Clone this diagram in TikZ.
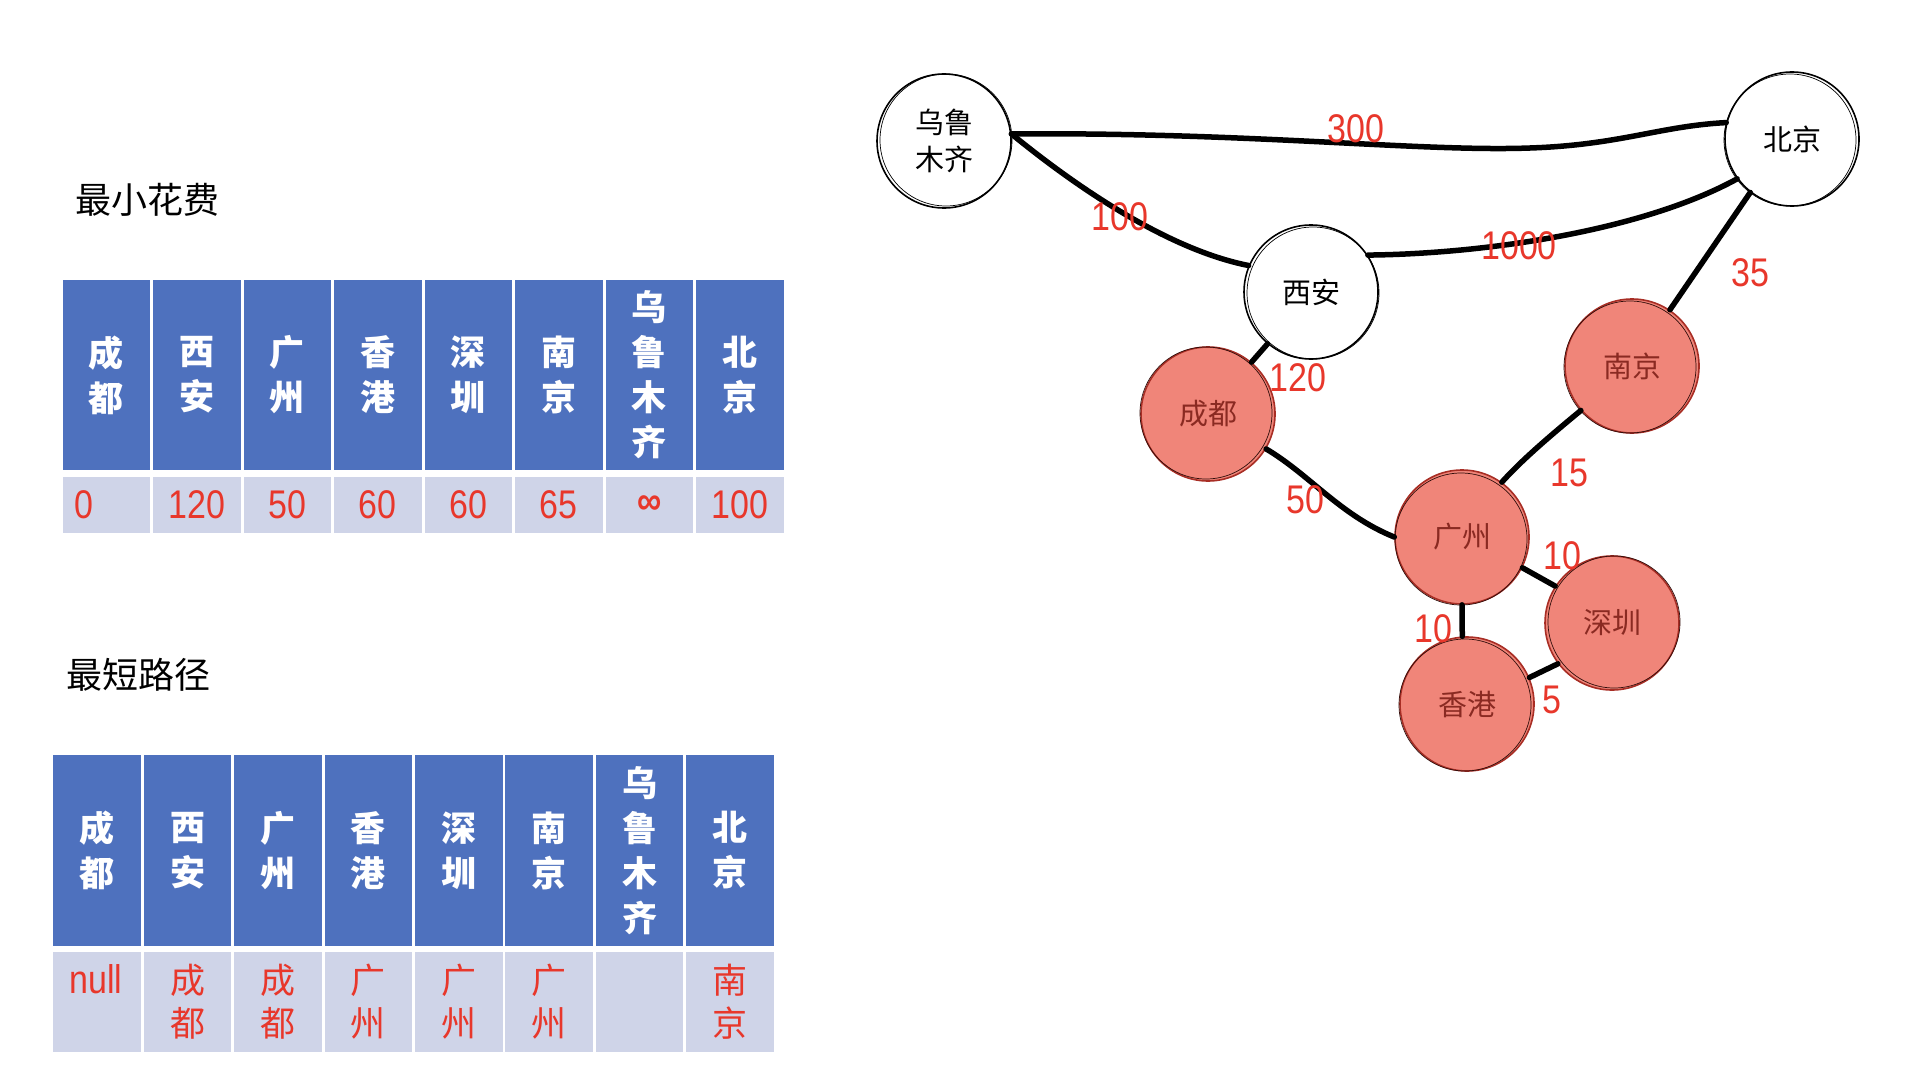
\documentclass[tikz,border=0pt]{standalone}
\usepackage{fontspec}
\setmainfont{Liberation Sans}
\newfontfamily\cjk{Noto Sans CJK SC}
\newfontfamily\numf[FakeStretch=0.85]{Liberation Sans}
\definecolor{hblue}{HTML}{4E71BE}
\definecolor{dgray}{HTML}{CFD4E8}
\definecolor{lred}{HTML}{E8372B}
\definecolor{nfill}{HTML}{F08579}
\definecolor{nline}{HTML}{A82E25}
\definecolor{ntext}{HTML}{8A2A22}
\tikzset{
  hcell/.style={fill=hblue, text=white, minimum width=87.5pt, inner sep=0pt, align=center,
    font=\cjk\bfseries\fontsize{35}{45}\selectfont},
  dcell/.style={fill=dgray, minimum width=87.5pt, inner sep=0pt, align=center},
  numtxt/.style={text=lred, font=\numf\fontsize{40}{40}\selectfont, inner sep=0pt},
  cjkred/.style={text=lred, font=\cjk\fontsize{35}{43}\selectfont},
  titletxt/.style={font=\cjk\fontsize{36}{40}\selectfont, inner sep=0pt},
  wnode/.style={circle, draw=black, line width=1.6pt, fill=white, minimum size=134pt, inner sep=0pt,
    align=center, font=\cjk\fontsize{29}{37}\selectfont},
  rnode/.style={wnode, fill=nfill, draw=nline, text=ntext},
  sketchw/.style={draw=black, line width=0.7pt},
  sketchr/.style={draw=black!70!nline, line width=0.7pt},
  link/.style={line width=5.5pt, line cap=round},
  elab/.style={text=lred, font=\numf\fontsize{40}{40}\selectfont, inner sep=0pt},
}
\begin{document}
\begin{tikzpicture}[x=1pt, y=-1pt]
\useasboundingbox (0,0) rectangle (1926,1078);
\fill[white] (0,0) rectangle (1926,1078);

% ---------- table 1 ----------
\node[titletxt, anchor=west] (title1) at (75,200) {最小花费};
\foreach \t [count=\i] in {{成\\都},{西\\安},{广\\州},{香\\港},{深\\圳},{南\\京},{乌\\鲁\\木\\齐},{北\\京}}
  \node[hcell, minimum height=190pt] (ha\i) at ({61+90.5*(\i-0.5)},375) {\t};
\foreach \t [count=\i] in {{},{120},{50},{60},{60},{65},{\textbf{∞}},{100}}
  \node[dcell, minimum height=56pt, numtxt] (da\i) at ({61+90.5*(\i-0.5)},505) {\t};
\node[numtxt, anchor=west] (dzero) at (74,505) {0};

% ---------- table 2 ----------
\node[titletxt, anchor=west] (title2) at (66,675) {最短路径};
\foreach \t [count=\i] in {{成\\都},{西\\安},{广\\州},{香\\港},{深\\圳},{南\\京},{乌\\鲁\\木\\齐},{北\\京}}
  \node[hcell, minimum height=191pt] (hb\i) at ({52+90.4*(\i-0.5)},850.5) {\t};
\foreach \t [count=\i] in {{},{成\\都},{成\\都},{广\\州},{广\\州},{广\\州},{},{南\\京}}
  \node[dcell, minimum height=100pt, cjkred] (db\i) at ({52+90.4*(\i-0.5)},1002) {\t};
\node[numtxt] (dnull) at (96,979) {null};

% ---------- graph ----------
\node[wnode] (wlmq) at (944,141) {乌鲁\\木齐};
\node[wnode] (bj) at (1792,139) {北京};
\node[wnode] (xa) at (1311,292) {西安};
\node[rnode] (cd) at (1208,414) {成都};
\node[rnode] (nj) at (1632,366) {南京};
\node[rnode] (gz) at (1462,537) {广州};
\node[rnode] (sz) at (1612,623) {深圳};
\node[rnode] (hk) at (1467,704) {香港};

\draw[sketchw] ([xshift=2pt,yshift=1pt]wlmq.center) circle[radius=66];
\draw[sketchw] ([xshift=-2pt,yshift=-1pt]bj.center) circle[radius=66];
\draw[sketchw] ([xshift=2pt,yshift=-1pt]xa.center) circle[radius=66];
\draw[sketchr] ([xshift=-2pt,yshift=1pt]cd.center) circle[radius=66];
\draw[sketchr] ([xshift=-2pt,yshift=-1pt]nj.center) circle[radius=66];
\draw[sketchr] ([xshift=-1pt,yshift=-2pt]gz.center) circle[radius=66];
\draw[sketchr] ([xshift=2pt,yshift=1pt]sz.center) circle[radius=66];
\draw[sketchr] ([xshift=-2pt,yshift=-1pt]hk.center) circle[radius=66];

\draw[link] (wlmq.6) .. controls (1250,132) and (1420,152) .. (1530,148)
  .. controls (1620,145) and (1660,126) .. (bj.166);
\draw[link] (wlmq.6) .. controls (1080,190) and (1170,250) .. (xa.157);
\draw[link] (xa.33) .. controls (1480,254) and (1640,232) .. (bj.216);
\draw[link] (bj.232) -- (nj.56);
\draw[link] (xa.230) -- (cd.50);
\draw[link] (cd.-31) .. controls (1310,475) and (1340,515) .. (gz.180);
\draw[link] (nj.221) .. controls (1545,440) and (1520,462) .. (gz.54);
\draw[link] (gz.-27) -- (sz.147);
\draw[link] (gz.-90) -- (hk.94);
\draw[link] (hk.23) -- (sz.217);

\node[elab] (l300) at (1356,129) {300};
\node[elab] (l100) at (1120,217) {100};
\node[elab] (l1000) at (1519,246) {1000};
\node[elab] (l35) at (1750,273) {35};
\node[elab] (l120) at (1298,378) {120};
\node[elab] (l50) at (1305,500) {50};
\node[elab] (l15) at (1569,473) {15};
\node[elab] (l10a) at (1562,556) {10};
\node[elab] (l10b) at (1433,629) {10};
\node[elab] (l5) at (1552,700) {5};
\end{tikzpicture}
\end{document}
